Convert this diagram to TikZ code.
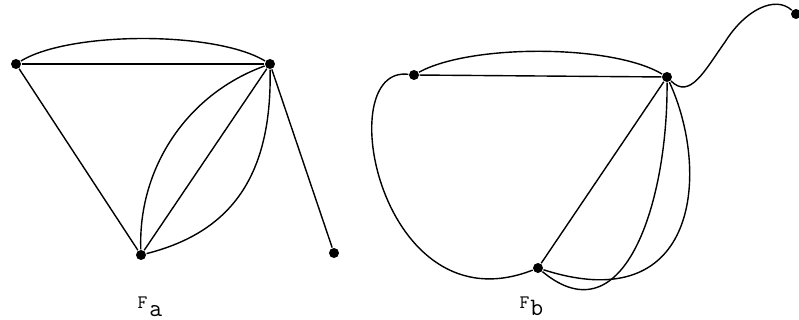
\documentclass[tikz,border=0pt]{standalone}
\usepackage{tikz}

\begin{document}
\begin{tikzpicture}[x=1pt, y=-1pt, line width=1.4pt,
    dot/.style={circle, fill=black, inner sep=0pt, minimum size=10pt},
    tag/.style={anchor=base west, inner sep=0pt, font=\fontsize{19}{22}\selectfont\ttfamily}]

  \useasboundingbox (0,0) rectangle (799,320);

  % -- the vertices of F_a -------------------------------------------------
  \node[dot] (a1) at (16,64) {};
  \node[dot] (a2) at (270,64) {};
  \node[dot] (a3) at (141,255) {};
  \node[dot] (a4) at (334,253) {};

  % -- the edges of F_a ----------------------------------------------------
  \draw (a1) -- (a2);
  \draw (a1) .. controls (70,31) and (216,31) .. (a2);
  \draw (a1) -- (a3);
  \draw (a2) -- (a3);
  \draw (a3) .. controls (138,170) and (185,95) .. (a2);
  \draw (a2) .. controls (272,175) and (232,232) .. (a3);
  \draw (a2) -- (a4);

  % -- the vertices of F_b -------------------------------------------------
  \node[dot] (b1) at (414,75) {};
  \node[dot] (b2) at (667,77) {};
  \node[dot] (b3) at (538,268) {};
  \node[dot] (b4) at (796,14) {};

  % -- the edges of F_b ----------------------------------------------------
  \draw (b1) -- (b2);
  \draw (b1) .. controls (470,44) and (612,44) .. (b2);
  \draw (b1) .. controls (330,65) and (380,330) .. (b3);
  \draw (b2) -- (b3);
  \draw (b2) .. controls (668,200) and (625,340) .. (b3);
  \draw (b2) .. controls (710,170) and (700,320) .. (b3);
  \draw (b2) .. controls (690,100) and (705,70) .. (725,42)
             .. controls (745,10) and (775,-5) .. (b4);

  % -- names under the two pictures ----------------------------------------
  \node[tag] (fa) at (137,308) {F\hspace{2pt}\raisebox{-8.5pt}{\fontsize{25}{28}\selectfont a}};
  \node[tag] (fb) at (519,308) {F\hspace{1pt}\raisebox{-7.5pt}{\fontsize{25}{28}\selectfont b}};

\end{tikzpicture}
\end{document}
